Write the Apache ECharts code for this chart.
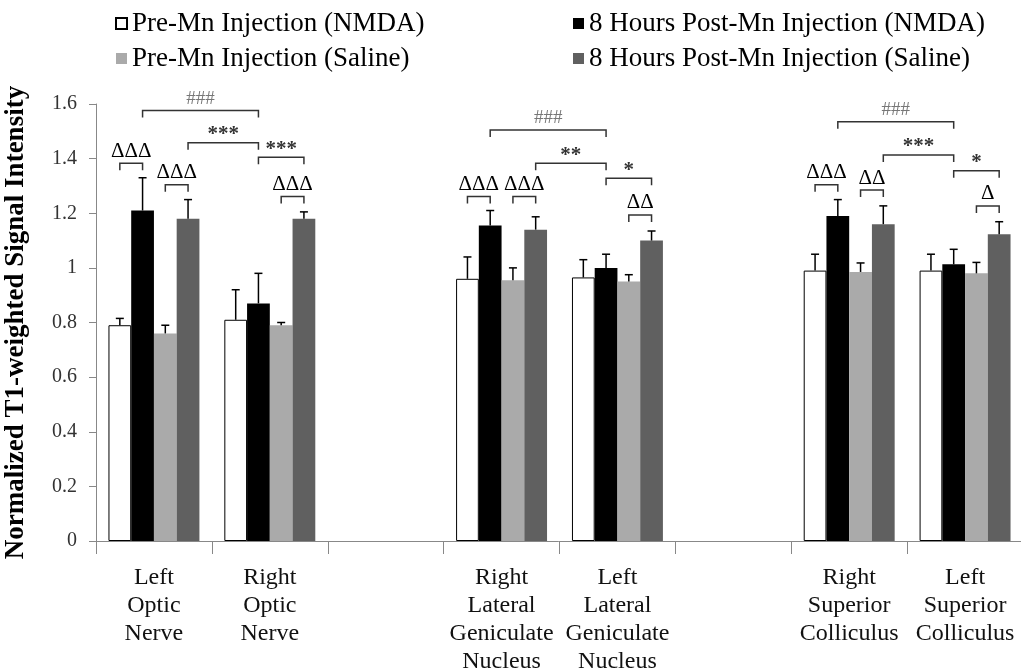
<!DOCTYPE html>
<html>
<head>
<meta charset="utf-8">
<script src="https://cdn.jsdelivr.net/npm/echarts@6/dist/echarts.min.js"></script>
<style>html,body{margin:0;padding:0;background:#fff;}#chart{width:1021px;height:671px;}</style>
</head>
<body>
<div id="chart"></div>
<script>
// ---- Data ----
const categories = ['Left\nOptic\nNerve', 'Right\nOptic\nNerve', '', 'Right\nLateral\nGeniculate\nNucleus', 'Left\nLateral\nGeniculate\nNucleus', '', 'Right\nSuperior\nColliculus', 'Left\nSuperior\nColliculus'];
const seriesNames = ['Pre-Mn Injection (NMDA)', '8 Hours Post-Mn Injection (NMDA)', 'Pre-Mn Injection (Saline)', '8 Hours Post-Mn Injection (Saline)'];
const preNMDA = [0.79, 0.81, null, 0.96, 0.965, null, 0.99, 0.99];
const postNMDA = [1.21, 0.87, null, 1.155, 1.00, null, 1.19, 1.013];
const preSaline = [0.76, 0.79, null, 0.955, 0.95, null, 0.985, 0.98];
const postSaline = [1.18, 1.18, null, 1.14, 1.10, null, 1.16, 1.123];
const preNMDAErr = [0.025, 0.11, null, 0.08, 0.065, null, 0.06, 0.06];
const postNMDAErr = [0.12, 0.11, null, 0.055, 0.05, null, 0.06, 0.055];
const preSalineErr = [0.03, 0.01, null, 0.045, 0.025, null, 0.033, 0.04];
const postSalineErr = [0.07, 0.025, null, 0.047, 0.035, null, 0.067, 0.046];
const yTicks = [0, 0.2, 0.4, 0.6, 0.8, 1, 1.2, 1.4, 1.6];
// significance brackets: [fromCategory, fromBar, toCategory, toBar, bracketLevel, label]
const brackets = [
  [0, 0, 0, 1, 1.383, 'ΔΔΔ'], [0, 2, 0, 3, 1.304, 'ΔΔΔ'], [0, 1, 1, 1, 1.576, '###'],
  [0, 3, 1, 1, 1.458, '***'], [1, 1, 1, 3, 1.405, '***'], [1, 2, 1, 3, 1.261, 'ΔΔΔ'],
  [3, 0, 3, 1, 1.261, 'ΔΔΔ'], [3, 2, 3, 3, 1.261, 'ΔΔΔ'], [3, 1, 4, 1, 1.505, '###'],
  [3, 3, 4, 1, 1.383, '**'], [4, 1, 4, 3, 1.328, '*'], [4, 2, 4, 3, 1.194, 'ΔΔ'],
  [6, 0, 6, 1, 1.304, 'ΔΔΔ'], [6, 2, 6, 3, 1.285, 'ΔΔ'], [6, 1, 7, 1, 1.535, '###'],
  [6, 3, 7, 1, 1.413, '***'], [7, 1, 7, 3, 1.356, '*'], [7, 2, 7, 3, 1.227, 'Δ']
];

// ---- Build ----
const values = [preNMDA, postNMDA, preSaline, postSaline];
const errs = [preNMDAErr, postNMDAErr, preSalineErr, postSalineErr];
const colors = ['#ffffff', '#000000', '#aaaaaa', '#606060'];
const serif = "'Liberation Serif','Times New Roman',serif";
const CAT_GAP = 0.215;
const NBARS = 4;

function barCenter(api, cat, bar) {
  const band = api.size([1, 0])[0];
  const group = band * (1 - CAT_GAP);
  const bw = group / NBARS;
  const cx = api.coord([cat, 0])[0];
  return cx - group / 2 + bw * (bar + 0.5);
}

const errData = [];
values.forEach((arr, b) => arr.forEach((v, c) => { if (v != null) errData.push([c, b, v, errs[b][c]]); }));

const barSeries = values.map((arr, i) => ({
  name: seriesNames[i],
  type: 'bar',
  data: arr,
  barGap: '0%',
  barCategoryGap: (CAT_GAP * 100) + '%',
  itemStyle: { color: colors[i], borderColor: i === 0 ? '#000' : colors[i], borderWidth: i === 0 ? 1 : 0 },
  emphasis: { disabled: true },
  z: 2
}));

const errSeries = {
  type: 'custom',
  z: 5,
  silent: true,
  data: errData,
  encode: { x: 0, y: 2 },
  renderItem: function (params, api) {
    const c = api.value(0), b = api.value(1), v = api.value(2), e = api.value(3);
    const x = barCenter(api, c, b);
    const y0 = api.coord([c, v])[1];
    const y1 = api.coord([c, v + e])[1];
    return {
      type: 'group',
      children: [
        { type: 'line', shape: { x1: x, y1: y0, x2: x, y2: y1 }, style: { stroke: '#000', lineWidth: 1.5 } },
        { type: 'line', shape: { x1: x - 4, y1: y1, x2: x + 4, y2: y1 }, style: { stroke: '#000', lineWidth: 1.5 } }
      ]
    };
  }
};

const bracketSeries = {
  type: 'custom',
  z: 6,
  silent: true,
  data: brackets.map(b => [b[0], b[4], b[1], b[2], b[3], b[5]]),
  encode: { x: 0, y: 1 },
  renderItem: function (params, api) {
    const b = brackets[params.dataIndex];
    const x1 = barCenter(api, b[0], b[1]);
    const x2 = barCenter(api, b[2], b[3]);
    const y = api.coord([b[0], b[4]])[1];
    const leg = 7;
    const lab = b[5];
    let font, color, dy;
    if (lab.indexOf('Δ') >= 0) { font = '21px ' + serif; color = '#000'; dy = -12; }
    else if (lab.indexOf('#') >= 0) { font = '19px ' + serif; color = '#777'; dy = -12; }
    else { font = 'bold 21px ' + serif; color = '#333'; dy = -8; }
    return {
      type: 'group',
      children: [
        { type: 'polyline', shape: { points: [[x1, y + leg], [x1, y], [x2, y], [x2, y + leg]] }, style: { stroke: '#333', lineWidth: 1.5, fill: null } },
        { type: 'text', style: { x: (x1 + x2) / 2, y: y + dy, text: lab, font: font, fill: color, align: 'center', verticalAlign: 'middle' } }
      ]
    };
  }
};

const chart = echarts.init(document.getElementById('chart'), null, { renderer: 'canvas' });
chart.setOption({
  animation: false,
  backgroundColor: '#fff',
  grid: { left: 96, right: -2, top: 104, bottom: 130, containLabel: false, outerBoundsMode: 'none' },
  legend: [
    { data: [seriesNames[0], seriesNames[2]], orient: 'vertical', left: 110, top: 5, itemWidth: 11, itemHeight: 11, itemGap: 8,
      icon: 'rect', selectedMode: false, textStyle: { fontFamily: serif, fontSize: 27, color: '#000', padding: [0, 0, 0, 0] } },
    { data: [seriesNames[1], seriesNames[3]], orient: 'vertical', left: 568, top: 5, itemWidth: 11, itemHeight: 11, itemGap: 8,
      icon: 'rect', selectedMode: false, textStyle: { fontFamily: serif, fontSize: 27, color: '#000', padding: [0, 0, 0, 0] } }
  ],
  xAxis: {
    type: 'category',
    data: categories,
    axisLine: { lineStyle: { color: '#888', width: 1 } },
    axisTick: { show: true, length: 13, lineStyle: { color: '#888' } },
    axisLabel: { interval: 0, margin: 23, fontFamily: serif, fontSize: 24, lineHeight: 28, color: '#111', align: 'center' }
  },
  yAxis: {
    type: 'value',
    min: 0, max: 1.6, interval: 0.2,
    name: 'Normalized T1-weighted Signal Intensity',
    nameLocation: 'middle',
    nameGap: 66,
    nameMoveOverlap: false,
    nameTextStyle: { fontFamily: serif, fontSize: 27, fontWeight: 'bold', color: '#000' },
    axisLine: { show: true, lineStyle: { color: '#888', width: 1 } },
    axisTick: { show: true, length: 7, lineStyle: { color: '#888' } },
    splitLine: { show: false },
    axisLabel: { margin: 19, fontFamily: serif, fontSize: 20, color: '#333',
      formatter: v => { const t = yTicks.find(k => Math.abs(k - v) < 1e-9); return String(t != null ? t : v); } }
  },
  series: barSeries.concat([errSeries, bracketSeries])
});
</script>
</body>
</html>
